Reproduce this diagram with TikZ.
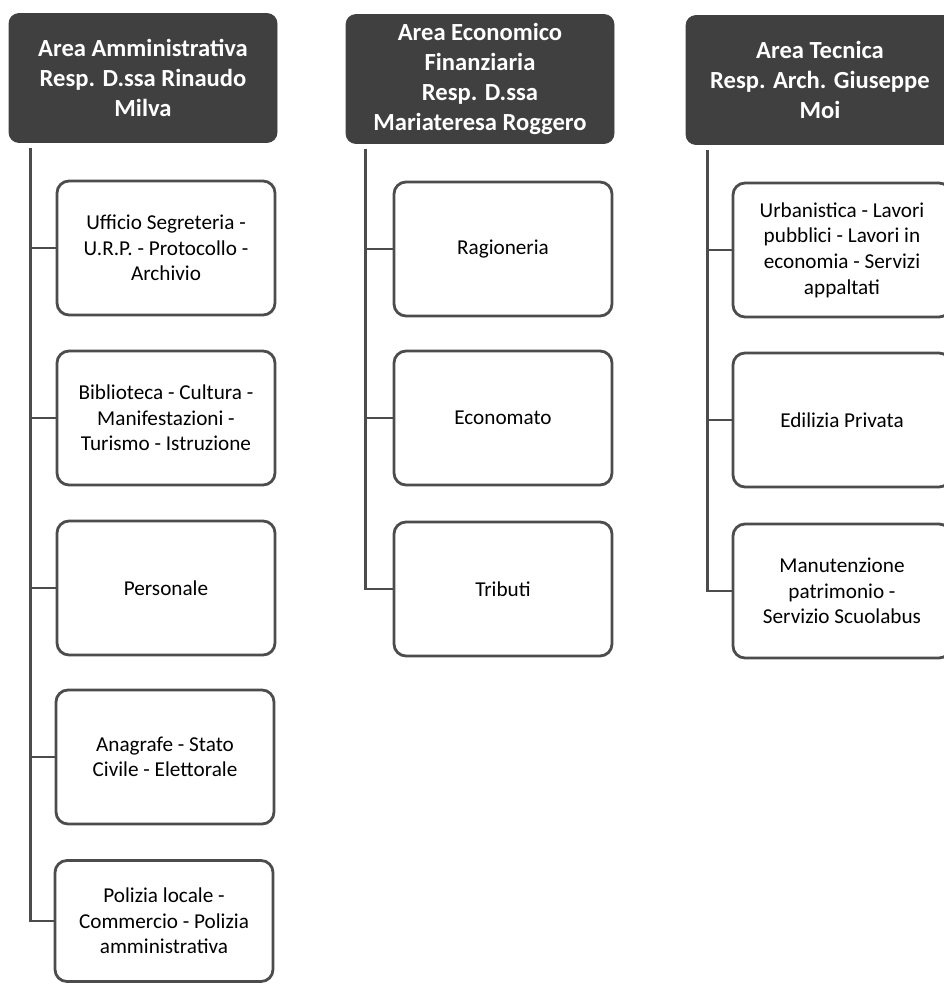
\documentclass[tikz,border=0pt]{standalone}
\usepackage{fontspec}
\setmainfont{Carlito}
\usepackage{xcolor}
\definecolor{darkbox}{rgb}{0.25, 0.25, 0.25}
\definecolor{edge}{rgb}{0.3, 0.3, 0.3}

\tikzset{
	headbox/.style={draw=darkbox, fill=darkbox, rounded corners=5pt, text=white, font=\fontsize{12.3}{15}\selectfont\bfseries, align=center, minimum width=134pt, minimum height=64.5pt, inner sep=2pt},
	unitbox/.style={draw=edge, line width=1.4pt, fill=white, rounded corners=6pt, font=\fontsize{10.6}{12.8}\selectfont, align=center, minimum width=109pt, minimum height=67pt, inner sep=2pt},
	link/.style={draw=edge, line width=1.4pt}
}

\begin{document}
\begin{tikzpicture}[x=0.5pt, y=-0.5pt]
			\useasboundingbox (0,0) rectangle (943,991);

			% Area heads
			\node[headbox] (amm) at (143,78) {Area Amministrativa\\Resp. D.ssa Rinaudo\\Milva};
			\node[headbox] (eco) at (480,79) {Area Economico\\Finanziaria\\Resp. D.ssa\\Mariateresa Roggero};
			\node[headbox] (tec) at (820,80) {Area Tecnica\\Resp. Arch. Giuseppe\\Moi};

			% Offices of the first area
			\node[unitbox] (uff) at (166,248) {Ufficio Segreteria -\\U.R.P. - Protocollo -\\Archivio};
			\node[unitbox] (bib) at (166,418) {Biblioteca - Cultura -\\Manifestazioni -\\Turismo - Istruzione};
			\node[unitbox] (per) at (166,588) {Personale};
			\node[unitbox] (ana) at (165,757) {Anagrafe - Stato\\Civile - Elettorale};
			\node[unitbox, minimum height=60.5pt] (pol) at (164,921) {Polizia locale -\\Commercio - Polizia\\amministrativa};

			% Offices of the second area
			\node[unitbox] (rag) at (503,249) {Ragioneria};
			\node[unitbox] (ecn) at (503,418) {Economato};
			\node[unitbox] (tri) at (503,589) {Tributi};

			% Offices of the third area
			\node[unitbox] (urb) at (842,250) {Urbanistica - Lavori\\pubblici - Lavori in\\economia - Servizi\\appaltati};
			\node[unitbox] (edi) at (842,420) {Edilizia Privata};
			\node[unitbox] (man) at (842,591) {Manutenzione\\patrimonio -\\Servizio Scuolabus};

			% Draw links
			\foreach \u in {uff,bib,per,ana,pol}
			\draw[link] ([xshift=11pt,yshift=-2.5pt]amm.south west) |- (\u.west);
			\foreach \u in {rag,ecn,tri}
			\draw[link] ([xshift=10pt,yshift=-2.5pt]eco.south west) |- (\u.west);
			\foreach \u in {urb,edi,man}
			\draw[link] ([xshift=11pt,yshift=-2.5pt]tec.south west) |- (\u.west);
		\end{tikzpicture}
\end{document}
